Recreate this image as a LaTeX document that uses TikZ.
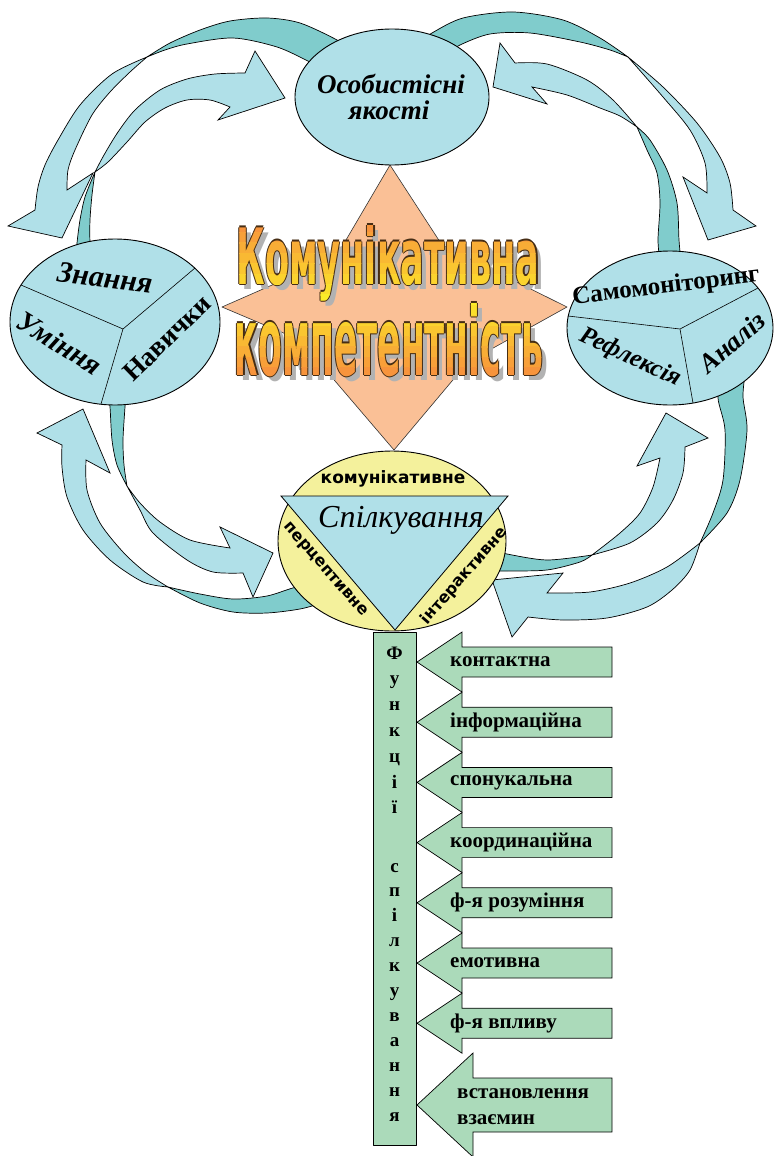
\documentclass[tikz,border=0pt]{standalone}
\usepackage{fontspec}
\setmainfont{Liberation Serif}
\newfontfamily\sansfont{DejaVu Sans}
\usetikzlibrary{shapes.geometric}
\definecolor{lblue}{RGB}{176,224,232}
\definecolor{tealc}{RGB}{128,204,204}
\definecolor{peach}{RGB}{250,192,150}
\definecolor{pyell}{RGB}{244,241,156}
\definecolor{fgreen}{RGB}{171,218,186}
\definecolor{torange}{RGB}{247,146,60}
\definecolor{tyellow}{RGB}{252,236,40}
\definecolor{tline}{RGB}{70,45,20}
\definecolor{tshadow}{RGB}{178,178,178}
\newcommand{\titleA}{\resizebox{303pt}{59pt}{\sansfont\bfseries Комунікативна}}
\newcommand{\titleB}{\resizebox{308pt}{72pt}{\sansfont\bfseries компетентність}}
\begin{document}
\begin{tikzpicture}[x=1pt,y=-1pt,line join=round,
  back/.style={fill=tealc,draw=black,line width=.7pt},
  front/.style={fill=lblue,draw=black,line width=.7pt,line join=miter},
  bubble/.style={ellipse,draw=black,line width=.9pt,fill=lblue,inner sep=0pt},
  bubtxt/.style={inner sep=0pt,font=\bfseries\itshape\fontsize{27}{27}\selectfont},
  bubup/.style={inner sep=0pt,font=\bfseries\fontsize{25}{25}\selectfont},
  spltxt/.style={inner sep=0pt,font=\sansfont\bfseries\fontsize{17}{17}\selectfont},
  titletxt/.style={inner sep=0pt,anchor=base},
  funcarrow/.style={fill=fgreen,draw=black,line width=.7pt,line join=miter},
  funclabel/.style={anchor=west,inner sep=0pt,align=left,font=\bfseries\fontsize{21}{26}\selectfont},
  barletter/.style={anchor=base,inner sep=0pt,font=\bfseries\fontsize{19}{19}\selectfont}]
\useasboundingbox (0,0) rectangle (775,1156);

\filldraw[back] plot[smooth] coordinates {(147,57) (170,43) (200,30) (230,21) (267,18) (300,23) (337,40) (345,48)}
  -- plot[smooth] coordinates {(330,72) (310,62) (277,47) (233,38) (187,44) (165,50) (147,57)} -- cycle;
\filldraw[back] plot[smooth] coordinates {(95,172) (85,197) (80,220) (77,243) (76,258)}
  -- plot[smooth] coordinates {(92,258) (90,242) (90,220) (92,195) (95,172)} -- cycle;
\filldraw[back] plot[smooth] coordinates {(628,57) (600,38) (563,20) (513,12) (463,18) (432,33) (420,42)}
  -- plot[smooth] coordinates {(445,55) (460,45) (490,34) (530,33) (580,42) (610,50) (628,57)} -- cycle;
\filldraw[back] plot[smooth] coordinates {(637,127) (650,140) (667,170) (677,203) (679,240) (681,262)}
  -- plot[smooth] coordinates {(660,262) (658,240) (660,203) (657,173) (647,150) (637,127)} -- cycle;
\filldraw[back] plot[smooth] coordinates {(168,587) (200,603) (233,612) (267,613) (300,609) (322,603)}
  -- plot[smooth] coordinates {(318,588) (297,587) (267,596) (233,599) (200,594) (168,587)} -- cycle;
\filldraw[back] plot[smooth] coordinates {(127,486) (117,465) (112,440) (110,407) (108,395)}
  -- plot[smooth] coordinates {(126,395) (125,407) (123,440) (124,465) (127,486)} -- cycle;
\filldraw[back] plot[smooth] coordinates {(592,555) (547,560) (507,554) (492,550)}
  -- plot[smooth] coordinates {(492,571) (507,571) (547,570) (580,562) (592,555)} -- cycle;
\filldraw[back] plot[smooth] coordinates {(700,543) (727,513) (740,480) (747,430) (743,397) (745,375)}
  -- plot[smooth] coordinates {(722,375) (718,398) (725,430) (723,480) (713,513) (700,543)} -- cycle;

\filldraw[front] plot[smooth] coordinates {(147,57) (112,74) (80,105) (58,140) (45,165) (38,187) (35,210)}
  -- (8,226) -- (62,238) -- (93,173)
  -- plot[smooth] coordinates {(67,190) (68,170) (75,150) (92,115) (110,92) (130,72) (147,57)} -- cycle;
\filldraw[front] plot[smooth] coordinates {(95,172) (104,155) (118,132) (135,110) (160,90) (187,79) (215,74) (245,73)}
  -- (255,51) -- (285,98) -- (218,120)
  -- plot[smooth] coordinates {(230,107) (210,100) (187,100) (165,108) (145,122) (127,142) (108,162) (95,172)} -- cycle;
\filldraw[front] plot[smooth] coordinates {(628,57) (663,87) (697,123) (720,157) (730,183) (733,210)}
  -- (756,226) -- (708,240) -- (683,177)
  -- plot[smooth] coordinates {(707,193) (705,163) (690,130) (663,97) (628,57)} -- cycle;
\filldraw[front] plot[smooth] coordinates {(637,127) (613,100) (587,80) (547,64) (515,63)}
  -- (500,43) -- (493,87) -- (547,104)
  -- plot[smooth] coordinates {(532,87) (567,95) (600,108) (620,116) (637,127)} -- cycle;
\filldraw[front] plot[smooth] coordinates {(168,587) (143,582) (110,560) (83,530) (67,497) (62,467) (62,445)}
  -- (37,433) -- (83,409) -- (110,473)
  -- plot[smooth] coordinates {(86,460) (87,490) (100,523) (123,552) (145,572) (168,587)} -- cycle;
\filldraw[front] plot[smooth] coordinates {(127,486) (140,510) (153,533) (187,560) (213,572) (243,573)}
  -- (253,597) -- (273,553) -- (220,527)
  -- plot[smooth] coordinates {(230,548) (190,540) (160,522) (140,503) (127,486)} -- cycle;
\filldraw[front] plot[smooth] coordinates {(592,555) (620,533) (640,513) (653,487) (660,458)}
  -- (637,466) -- (666,413) -- (708,438)
  -- plot[smooth] coordinates {(685,447) (683,473) (673,500) (657,523) (630,543) (592,555)} -- cycle;
\filldraw[front] plot[smooth] coordinates {(700,543) (690,570) (672,590) (647,607) (607,618) (563,620) (528,617)}
  -- (512,637) -- (492,580) -- (563,573)
  -- plot[smooth] coordinates {(547,593) (590,592) (630,583) (667,567) (700,543)} -- cycle;

\filldraw[fill=peach,draw=black!80,line width=.6pt] (390,165) -- (442,245) -- (567,307) -- (468,362)
  -- (394,450) -- (300,340) -- (222,307) -- (336,257) -- cycle;

\node[bubble,minimum width=194,minimum height=136] (osob) at (392,97) {};
\node[bubtxt,anchor=base] (osob1) at (391,93) {Особистісні};
\node[bubtxt,anchor=base] (osob2) at (389,119) {якості};

\node[bubble,minimum width=210,minimum height=166] (znan) at (115,322) {};
\draw[line width=.6pt] (123,329) -- (21,285) (123,329) -- (195,268) (123,329) -- (101,404);
\node[bubtxt,rotate=-7,font=\bfseries\itshape\fontsize{30}{30}\selectfont] (znan1) at (105,278) {Знання};
\node[bubtxt,rotate=-32,font=\bfseries\itshape\fontsize{29}{29}\selectfont] (znan2) at (60,343) {Уміння};
\node[bubup,rotate=44,font=\bfseries\fontsize{27}{27}\selectfont] (znan3) at (167,338) {Навички};

\node[bubble,minimum width=206,minimum height=154] (samo) at (670,328) {};
\draw[line width=.6pt] (680,329) -- (568,316) (680,329) -- (758,288) (680,329) -- (693,403);
\node[bubup,rotate=7] (samo1) at (666,287) {Самомоніторинг};
\node[bubtxt,rotate=-25,font=\bfseries\itshape\fontsize{25}{25}\selectfont] (samo2) at (630,358) {Рефлексія};
\node[bubtxt,rotate=41] (samo3) at (732,342) {Аналіз};

\node[ellipse,draw=black,line width=.9pt,fill=pyell,inner sep=0pt,minimum width=228,minimum height=180] (spilk) at (392,541) {};
\filldraw[fill=lblue,draw=black,line width=.8pt,line join=miter] (281,496) -- (508,496) -- (395,630) -- cycle;
\node[spltxt] (spilk1) at (393,479) {комунікативне};
\node[inner sep=0pt,anchor=base,font=\itshape\fontsize{32}{32}\selectfont] (spilk2) at (401,527) {Спілкування};
\node[spltxt,rotate=-49,font=\sansfont\bfseries\fontsize{16}{16}\selectfont] (spilk3) at (325,570) {перцептивне};
\node[spltxt,rotate=49,font=\sansfont\bfseries\fontsize{16}{16}\selectfont] (spilk4) at (464,576) {інтерактивне};

\node[draw=black,line width=.8pt,fill=fgreen,minimum width=43,minimum height=513,anchor=north west,inner sep=0pt] (fbar) at (373,632) {};
\foreach \ch [count=\i from 0] in {Ф,у,н,к,ц,і,ї}
  \node[barletter] (fa\i) at (394.5,{659+25.8*\i}) {\ch};
\foreach \ch [count=\i from 0] in {с,п,і,л,к,у,в,а,н,н,я}
  \node[barletter] (fb\i) at (394.5,{872+24.9*\i}) {\ch};

\foreach \lbl [count=\i from 0] in {контактна,інформаційна,спонукальна,координаційна,ф-я розуміння,емотивна,ф-я впливу}{
  \pgfmathsetmacro{\yy}{662+60.2*\i}
  \filldraw[funcarrow] (417,\yy) -- ++(45,-30) -- ++(0,15) -- ++(150,0) -- ++(0,30) -- ++(-150,0) -- ++(0,15) -- cycle;
  \node[funclabel] (f\i) at (450,\yy) {\lbl};
}
\filldraw[funcarrow] (417,1105) -- ++(56,-52) -- ++(0,25) -- ++(139,0) -- ++(0,54) -- ++(-139,0) -- ++(0,25) -- cycle;
\node[funclabel] (f7) at (457,1107) {встановлення\\взаємин};

\node[titletxt,text=tshadow] (tsh1) at (393,289) {\titleA};
\node[titletxt,text=tshadow] (tsh2) at (394,380) {\titleB};
\foreach \dx/\dy in {1.1/0,-1.1/0,0/1.1,0/-1.1}{
  \node[titletxt,text=tline,xshift=\dx pt,yshift=\dy pt] at (388,284) {\titleA};
  \node[titletxt,text=tline,xshift=\dx pt,yshift=\dy pt] at (389,375) {\titleB};
}
\foreach \k in {0,...,14}{
  \pgfmathsetmacro{\ya}{222+10.4*\k}
  \pgfmathsetmacro{\mix}{max(0,100-abs(\ya+5.2-300)*1.35)}
  \begin{scope}
    \clip (200,\ya) rectangle (580,\ya+10.6);
    \node[titletxt,text=tyellow!\mix!torange] (ta\k) at (388,284) {\titleA};
    \node[titletxt,text=tyellow!\mix!torange] (tb\k) at (389,375) {\titleB};
  \end{scope}
}
\end{tikzpicture}
\end{document}
